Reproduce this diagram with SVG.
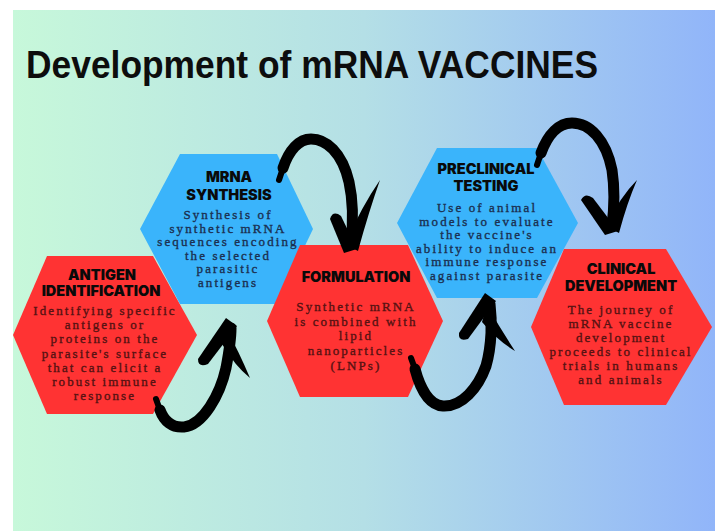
<svg xmlns="http://www.w3.org/2000/svg" width="715" height="531" viewBox="0 0 715 531">
  <defs>
    <linearGradient id="bg" x1="0" y1="0" x2="1" y2="0">
      <stop offset="0" stop-color="#c7f8da"/>
      <stop offset="0.5" stop-color="#b4dfe6"/>
      <stop offset="1" stop-color="#91b5f9"/>
    </linearGradient>
    <style>
      .red { fill: #ff3333; }
      .blue { fill: #3ab4fb; }
      .title { font-family: "Liberation Sans", "DejaVu Sans", sans-serif; font-weight: 700; font-size: 38px; fill: #0d0d0d; }
      .head { font-family: "Inter", "Liberation Sans", sans-serif; font-weight: 900; font-size: 14.5px; fill: #0a0a0a; text-anchor: middle; }
      .body { font-family: "Liberation Serif", "DejaVu Serif", serif; font-size: 13px; letter-spacing: 2.1px; text-anchor: middle; stroke-width: 0.35px; }
      .on-red { fill: #551212; stroke: #551212; }
      .on-blue { fill: #1b2f50; stroke: #1b2f50; }
      .shaft { fill: none; stroke: #000; stroke-width: 11; stroke-linecap: round; stroke-linejoin: round; }
      .tail { fill: none; stroke: #000; stroke-width: 6; stroke-linecap: round; }
      .barb { fill: #000; }
    </style>
  </defs>

  <!-- page and backdrop -->
  <rect width="715" height="531" fill="#ffffff"/>
  <rect x="13" y="10" width="702" height="521" fill="url(#bg)"/>

  <text class="title" x="26" y="78" textLength="572" lengthAdjust="spacingAndGlyphs">Development of mRNA VACCINES</text>

  <!-- step 1 -->
  <g id="antigen-identification">
    <polygon class="red" points="47,256 153,256 197,335 153,414 47,414 13,335"/>
    <text class="head" x="102" y="280">ANTIGEN</text>
    <text class="head" x="101" y="296">IDENTIFICATION</text>
    <text class="body on-red" x="105" y="315">Identifying specific</text>
    <text class="body on-red" x="105" y="329">antigens or</text>
    <text class="body on-red" x="105" y="343">proteins on the</text>
    <text class="body on-red" x="105" y="357.5">parasite's surface</text>
    <text class="body on-red" x="105" y="371.5">that can elicit a</text>
    <text class="body on-red" x="105" y="385.5">robust immune</text>
    <text class="body on-red" x="105" y="400">response</text>
  </g>

  <!-- step 2 -->
  <g id="mrna-synthesis">
    <polygon class="blue" points="180,154 277,154 313,229 277,304 180,304 140,229"/>
    <text class="head" x="229" y="182">MRNA</text>
    <text class="head" x="229" y="200">SYNTHESIS</text>
    <text class="body on-blue" x="228" y="219">Synthesis of</text>
    <text class="body on-blue" x="228" y="232.6">synthetic mRNA</text>
    <text class="body on-blue" x="228" y="246.2">sequences encoding</text>
    <text class="body on-blue" x="228" y="259.8">the selected</text>
    <text class="body on-blue" x="228" y="273.4">parasitic</text>
    <text class="body on-blue" x="228" y="287">antigens</text>
  </g>

  <!-- step 3 -->
  <g id="formulation">
    <polygon class="red" points="300,245 408,245 443,321 408,397 300,397 267,321"/>
    <text class="head" x="356" y="282">FORMULATION</text>
    <text class="body on-red" x="356" y="311">Synthetic mRNA</text>
    <text class="body on-red" x="356" y="325.7">is combined with</text>
    <text class="body on-red" x="356" y="340.4">lipid</text>
    <text class="body on-red" x="356" y="355.1">nanoparticles</text>
    <text class="body on-red" x="356" y="369.8">(LNPs)</text>
  </g>

  <!-- step 4 -->
  <g id="preclinical-testing">
    <polygon class="blue" points="437,148 537,148 578,223 537,298 437,298 397,223"/>
    <text class="head" x="486" y="174">PRECLINICAL</text>
    <text class="head" x="486" y="191">TESTING</text>
    <text class="body on-blue" x="487" y="212">Use of animal</text>
    <text class="body on-blue" x="487" y="225.6">models to evaluate</text>
    <text class="body on-blue" x="487" y="239.2">the vaccine's</text>
    <text class="body on-blue" x="487" y="252.8">ability to induce an</text>
    <text class="body on-blue" x="487" y="266.4">immune response</text>
    <text class="body on-blue" x="487" y="280">against parasite</text>
  </g>

  <!-- step 5 -->
  <g id="clinical-development">
    <polygon class="red" points="564,249 666,249 712,327 666,405 564,405 531,327"/>
    <text class="head" x="621" y="274">CLINICAL</text>
    <text class="head" x="621" y="291">DEVELOPMENT</text>
    <text class="body on-red" x="621" y="314">The journey of</text>
    <text class="body on-red" x="621" y="327.9">mRNA vaccine</text>
    <text class="body on-red" x="621" y="341.8">development</text>
    <text class="body on-red" x="621" y="355.7">proceeds to clinical</text>
    <text class="body on-red" x="621" y="369.6">trials in humans</text>
    <text class="body on-red" x="621" y="383.5">and animals</text>
  </g>

  <!-- brush-stroke arrows between the steps -->
  <g id="connectors">
    <!-- antigen identification -> mRNA synthesis -->
    <path class="tail" d="M156,399 L160,410"/>
    <path class="shaft" d="M160,410 C164,421 172,428 184,427 C203,425 220,395 226,368 C229,352 231,338 231,328"/>
    <path class="barb" d="M226,318 L237,326 L208,364 Q198,368 198,359 Z"/>
    <path class="barb" d="M227,330 Q239,352 250,378 Q235,366 222,344 Z"/>

    <!-- mRNA synthesis -> formulation -->
    <path class="tail" d="M279,180 L283,168"/>
    <path class="shaft" d="M283,168 C289,150 299,139 311,139 C326,139 342,152 349,182 C353,200 353,225 351,244"/>
    <path class="barb" d="M344,253 L357,249 L341,216 Q333,210 330,219 Z"/>
    <path class="barb" d="M345,244 Q362,206 380,180 Q369,211 358,251 Z"/>

    <!-- formulation -> preclinical testing -->
    <path class="tail" d="M411,358 L415,369"/>
    <path class="shaft" d="M415,369 C420,388 429,405 443,406 C462,407 478,388 486,366 C492,345 492,320 490,304"/>
    <path class="barb" d="M485,293 L496,301 L468,339 Q458,342 459,333 Z"/>
    <path class="barb" d="M487,305 Q501,330 515,351 Q498,341 482,322 Z"/>

    <!-- preclinical testing -> clinical development -->
    <path class="tail" d="M537,165 L541,153"/>
    <path class="shaft" d="M541,153 C548,134 559,123 572,123 C590,123 606,140 612,170 C615,190 614,210 612,226"/>
    <path class="barb" d="M605,235 L618,231 L593,198 Q585,192 581,200 Z"/>
    <path class="barb" d="M606,226 Q620,197 637,180 Q627,203 619,233 Z"/>
  </g>
</svg>
